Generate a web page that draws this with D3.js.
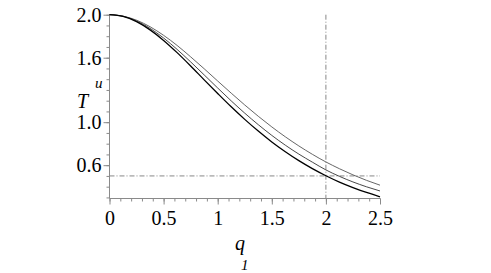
<!DOCTYPE html>
<html><head><meta charset="utf-8">
<script src="https://cdn.jsdelivr.net/npm/d3@7"></script>
<style>body{margin:0;background:#fff}svg{display:block}
text{font-family:"Liberation Serif","Times New Roman",Times,serif !important;}</style>
</head><body><svg id="c" width="491" height="273"></svg>
<script>
const qValues = [0,0.125,0.25,0.375,0.5,0.625,0.75,0.875,1.0,1.125,1.25,1.375,1.5,1.625,1.75,1.875,2.0,2.125,2.25,2.375,2.5];
const curveLow = [2.0,1.984,1.936,1.859,1.761,1.647,1.523,1.394,1.267,1.143,1.026,0.917,0.816,0.725,0.642,0.568,0.502,0.443,0.392,0.346,0.306];
const curveMid = [2.0,1.985,1.942,1.873,1.783,1.677,1.561,1.440,1.318,1.198,1.084,0.977,0.877,0.786,0.703,0.628,0.556,0.496,0.444,0.399,0.360];
const curveTop = [2.0,1.987,1.949,1.888,1.808,1.714,1.608,1.497,1.383,1.270,1.160,1.055,0.956,0.864,0.779,0.701,0.630,0.567,0.510,0.459,0.414];
const xTicks = [0,0.5,1,1.5,2,2.5];
const xTickLabels = ["0","0.5","1","1.5","2","2.5"];
const yTicks = [2.0,1.6,1.0,0.6];
const yTickLabels = ["2.0","1.6","1.0","0.6"];
const refQ = 2;
const refT = 0.5;

const svg = d3.select("#c");
const x = d3.scaleLinear().domain([0,2.5]).range([109.5,380]);
const y = d3.scaleLinear().domain([0.29,2.0]).range([198.5,14.7]);
const axisColor = "#8a8a8a";

const xMinor = d3.range(0,26).map(i=>i/10);
const yMinor = d3.range(3,21).map(i=>i/10);

const gx = svg.append("g").attr("transform",`translate(0,${y(0.29)})`);
gx.call(d3.axisBottom(x).tickValues(xMinor).tickSize(3).tickFormat(""));
gx.call(g=>g.select(".domain").remove());
const gx2 = svg.append("g").attr("transform",`translate(0,${y(0.29)})`);
gx2.call(d3.axisBottom(x).tickValues(xTicks).tickSize(6).tickPadding(6).tickFormat((d,i)=>xTickLabels[i]));

const gy = svg.append("g").attr("transform",`translate(${x(0)},0)`);
gy.call(d3.axisLeft(y).tickValues(yMinor).tickSize(3).tickFormat(""));
gy.call(g=>g.select(".domain").remove());
const gy2 = svg.append("g").attr("transform",`translate(${x(0)},0)`);
gy2.call(d3.axisLeft(y).tickValues(yTicks).tickSize(6).tickPadding(2).tickFormat((d,i)=>yTickLabels[i]));

svg.selectAll(".domain, .tick line").attr("stroke",axisColor).attr("stroke-width",1);
svg.selectAll("g").attr("font-family",null);
svg.selectAll(".tick text").attr("font-size",20).attr("fill","#000");
gx2.selectAll(".domain").attr("d",`M${x(0)},0H${x(2.5)}`);
gy2.selectAll(".domain").attr("d",`M0,${y(0.29)}V${y(2.0)}`);

svg.append("line").attr("x1",x(0)).attr("x2",x(2.5)).attr("y1",y(refT)).attr("y2",y(refT))
  .attr("stroke","#888").attr("stroke-width",1).attr("stroke-dasharray","5,2,1,2");
svg.append("line").attr("x1",x(refQ)).attr("x2",x(refQ)).attr("y1",y(2.0)).attr("y2",y(0.29))
  .attr("stroke","#888").attr("stroke-width",1).attr("stroke-dasharray","5,2,1,2");

const line = d3.line().x((d,i)=>x(qValues[i])).y(d=>y(d)).curve(d3.curveMonotoneX);
svg.append("path").datum(curveTop).attr("d",line).attr("fill","none").attr("stroke","#555").attr("stroke-width",0.9);
svg.append("path").datum(curveMid).attr("d",line).attr("fill","none").attr("stroke","#333").attr("stroke-width",0.9);
svg.append("path").datum(curveLow).attr("d",line).attr("fill","none").attr("stroke","#000").attr("stroke-width",1.3);

svg.append("text").attr("x",77).attr("y",108).attr("font-style","italic").attr("font-size",20).text("T");
svg.append("text").attr("x",95).attr("y",88).attr("font-style","italic").attr("font-size",15).text("u");
svg.append("text").attr("x",235).attr("y",250).attr("font-style","italic").attr("font-size",20).text("q");
svg.append("text").attr("x",241).attr("y",270).attr("font-style","italic").attr("font-size",15).text("1");
</script></body></html>
